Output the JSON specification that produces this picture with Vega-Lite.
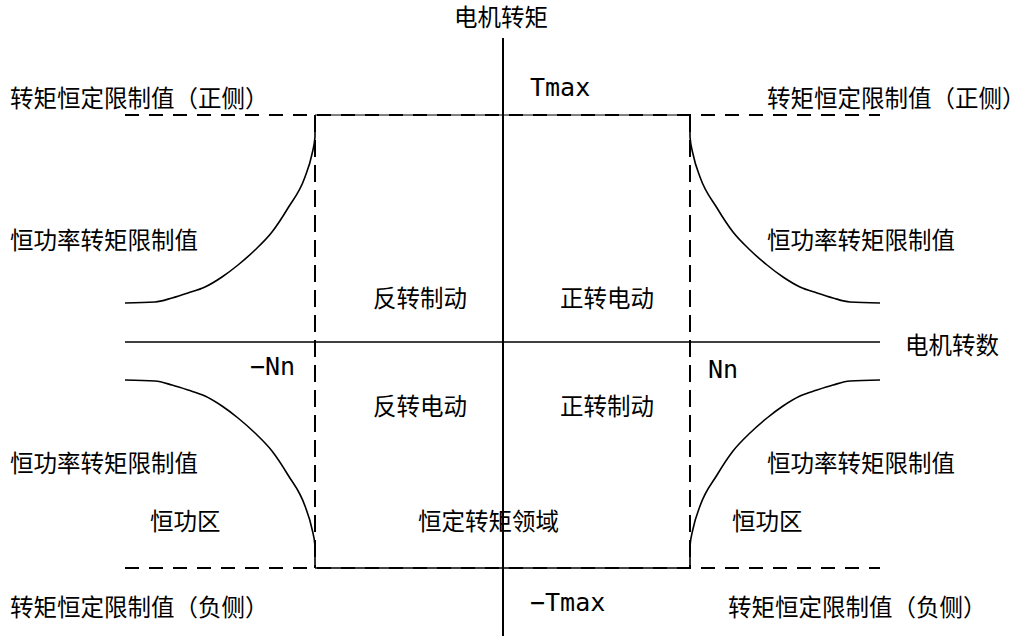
{
  "$schema": "https://vega.github.io/schema/vega-lite/v6.json",
  "width": 1022,
  "height": 641,
  "autosize": {"type": "none"},
  "padding": 0,
  "background": "white",
  "config": {"view": {"stroke": null}},
  "datasets": {
    "axes": [
      {"seg": "speed axis", "x1": -378, "y1": 0, "x2": 377, "y2": 0},
      {"seg": "torque axis", "x1": 0, "y1": 304, "x2": 0, "y2": -294}
    ],
    "solid": [
      {"seg": "top", "x1": -188, "y1": 227, "x2": 187, "y2": 227},
      {"seg": "bottom", "x1": -188, "y1": -226, "x2": 187, "y2": -226}
    ],
    "dashed": [
      {"seg": "Tmax", "x1": -378, "y1": 227, "x2": 377, "y2": 227},
      {"seg": "-Tmax", "x1": -378, "y1": -226, "x2": 377, "y2": -226},
      {"seg": "-Nn", "x1": -188, "y1": 227, "x2": -188, "y2": -226},
      {"seg": "Nn", "x1": 187, "y1": 227, "x2": 187, "y2": -226}
    ],
    "curves": [
      {"c": "tr", "i": 0, "n": 187, "t": 227},
      {"c": "tr", "i": 1, "n": 187, "t": 205},
      {"c": "tr", "i": 2, "n": 190, "t": 188},
      {"c": "tr", "i": 3, "n": 197, "t": 165},
      {"c": "tr", "i": 4, "n": 214, "t": 134},
      {"c": "tr", "i": 5, "n": 230, "t": 110},
      {"c": "tr", "i": 6, "n": 247, "t": 92},
      {"c": "tr", "i": 7, "n": 264, "t": 77},
      {"c": "tr", "i": 8, "n": 280, "t": 65},
      {"c": "tr", "i": 9, "n": 297, "t": 55},
      {"c": "tr", "i": 10, "n": 314, "t": 49},
      {"c": "tr", "i": 11, "n": 330, "t": 44},
      {"c": "tr", "i": 12, "n": 347, "t": 40},
      {"c": "tr", "i": 13, "n": 377, "t": 39},
      {"c": "tl", "i": 0, "n": -188, "t": 227},
      {"c": "tl", "i": 1, "n": -188, "t": 205},
      {"c": "tl", "i": 2, "n": -191, "t": 188},
      {"c": "tl", "i": 3, "n": -198, "t": 165},
      {"c": "tl", "i": 4, "n": -215, "t": 134},
      {"c": "tl", "i": 5, "n": -231, "t": 110},
      {"c": "tl", "i": 6, "n": -248, "t": 92},
      {"c": "tl", "i": 7, "n": -265, "t": 77},
      {"c": "tl", "i": 8, "n": -281, "t": 65},
      {"c": "tl", "i": 9, "n": -298, "t": 55},
      {"c": "tl", "i": 10, "n": -315, "t": 49},
      {"c": "tl", "i": 11, "n": -331, "t": 44},
      {"c": "tl", "i": 12, "n": -348, "t": 40},
      {"c": "tl", "i": 13, "n": -378, "t": 39},
      {"c": "br", "i": 0, "n": 187, "t": -226},
      {"c": "br", "i": 1, "n": 187, "t": -204},
      {"c": "br", "i": 2, "n": 190, "t": -187},
      {"c": "br", "i": 3, "n": 197, "t": -164},
      {"c": "br", "i": 4, "n": 214, "t": -133},
      {"c": "br", "i": 5, "n": 230, "t": -109},
      {"c": "br", "i": 6, "n": 247, "t": -91},
      {"c": "br", "i": 7, "n": 264, "t": -76},
      {"c": "br", "i": 8, "n": 280, "t": -64},
      {"c": "br", "i": 9, "n": 297, "t": -54},
      {"c": "br", "i": 10, "n": 314, "t": -48},
      {"c": "br", "i": 11, "n": 330, "t": -43},
      {"c": "br", "i": 12, "n": 347, "t": -39},
      {"c": "br", "i": 13, "n": 377, "t": -38},
      {"c": "bl", "i": 0, "n": -188, "t": -226},
      {"c": "bl", "i": 1, "n": -188, "t": -204},
      {"c": "bl", "i": 2, "n": -191, "t": -187},
      {"c": "bl", "i": 3, "n": -198, "t": -164},
      {"c": "bl", "i": 4, "n": -215, "t": -133},
      {"c": "bl", "i": 5, "n": -231, "t": -109},
      {"c": "bl", "i": 6, "n": -248, "t": -91},
      {"c": "bl", "i": 7, "n": -265, "t": -76},
      {"c": "bl", "i": 8, "n": -281, "t": -64},
      {"c": "bl", "i": 9, "n": -298, "t": -54},
      {"c": "bl", "i": 10, "n": -315, "t": -48},
      {"c": "bl", "i": 11, "n": -331, "t": -43},
      {"c": "bl", "i": 12, "n": -348, "t": -39},
      {"c": "bl", "i": 13, "n": -378, "t": -38}
    ],
    "cjk": [
      {"text": "电机转矩", "n": -49, "t": 323},
      {"text": "转矩恒定限制值（正侧）", "n": -493, "t": 242},
      {"text": "转矩恒定限制值（正侧）", "n": 264, "t": 242},
      {"text": "恒功率转矩限制值", "n": -493, "t": 100},
      {"text": "恒功率转矩限制值", "n": 264, "t": 100},
      {"text": "反转制动", "n": -130, "t": 42},
      {"text": "正转电动", "n": 57, "t": 42},
      {"text": "电机转数", "n": 402, "t": -5},
      {"text": "反转电动", "n": -130, "t": -66},
      {"text": "正转制动", "n": 57, "t": -66},
      {"text": "恒功率转矩限制值", "n": -493, "t": -123},
      {"text": "恒功率转矩限制值", "n": 264, "t": -123},
      {"text": "恒功区", "n": -353, "t": -181},
      {"text": "恒功区", "n": 229, "t": -181},
      {"text": "恒定转矩领域", "n": -85, "t": -181},
      {"text": "转矩恒定限制值（负侧）", "n": -493, "t": -267},
      {"text": "转矩恒定限制值（负侧）", "n": 225, "t": -267}
    ],
    "latin": [
      {"text": "Tmax", "n": 27, "t": 254},
      {"text": "−Tmax", "n": 27, "t": -261},
      {"text": "−Nn", "n": -253, "t": -25},
      {"text": "Nn", "n": 205, "t": -28}
    ]
  },
  "layer": [
    {
      "data": {"name": "dashed"},
      "mark": {"type": "rule", "color": "black", "strokeWidth": 2},
      "encoding": {
        "x": {"field": "x1", "type": "quantitative", "scale": {"domain": [-503, 519], "nice": false, "zero": false}, "axis": null},
        "y": {"field": "y1", "type": "quantitative", "scale": {"domain": [-299, 342], "nice": false, "zero": false}, "axis": null},
        "x2": {"field": "x2"},
        "y2": {"field": "y2"},
        "strokeDash": {"field": "seg", "type": "nominal", "scale": {"domain": ["Tmax", "-Tmax", "-Nn", "Nn"], "range": [[14, 10], [14, 10], [17, 8], [17, 8]]}, "legend": null}
      }
    },
    {
      "data": {"name": "solid"},
      "mark": {"type": "rule", "color": "black"},
      "encoding": {
        "x": {"field": "x1", "type": "quantitative", "axis": null},
        "y": {"field": "y1", "type": "quantitative", "axis": null},
        "x2": {"field": "x2"},
        "y2": {"field": "y2"},
        "strokeWidth": {"field": "seg", "type": "nominal", "scale": {"domain": ["top", "bottom"], "range": [1, 2]}, "legend": null}
      }
    },
    {
      "data": {"name": "axes"},
      "mark": {"type": "rule", "color": "black"},
      "encoding": {
        "x": {"field": "x1", "type": "quantitative", "axis": null},
        "y": {"field": "y1", "type": "quantitative", "axis": null},
        "x2": {"field": "x2"},
        "y2": {"field": "y2"},
        "strokeWidth": {"field": "seg", "type": "nominal", "scale": {"domain": ["speed axis", "torque axis"], "range": [1, 2]}, "legend": null}
      }
    },
    {
      "data": {"name": "curves"},
      "mark": {"type": "line", "color": "black", "strokeWidth": 1.6, "interpolate": "monotone"},
      "encoding": {
        "x": {"field": "n", "type": "quantitative", "axis": null},
        "y": {"field": "t", "type": "quantitative", "axis": null},
        "detail": {"field": "c", "type": "nominal"},
        "order": {"field": "i", "type": "quantitative"}
      }
    },
    {
      "data": {"name": "cjk"},
      "mark": {"type": "text", "font": "Noto Sans CJK SC", "fontSize": 23.5, "baseline": "middle", "align": "left", "color": "black"},
      "encoding": {
        "x": {"field": "n", "type": "quantitative", "axis": null},
        "y": {"field": "t", "type": "quantitative", "axis": null},
        "text": {"field": "text"}
      }
    },
    {
      "data": {"name": "latin"},
      "mark": {"type": "text", "font": "DejaVu Sans Mono", "fontSize": 25, "baseline": "middle", "align": "left", "color": "black"},
      "encoding": {
        "x": {"field": "n", "type": "quantitative", "axis": null},
        "y": {"field": "t", "type": "quantitative", "axis": null},
        "text": {"field": "text"}
      }
    }
  ]
}
